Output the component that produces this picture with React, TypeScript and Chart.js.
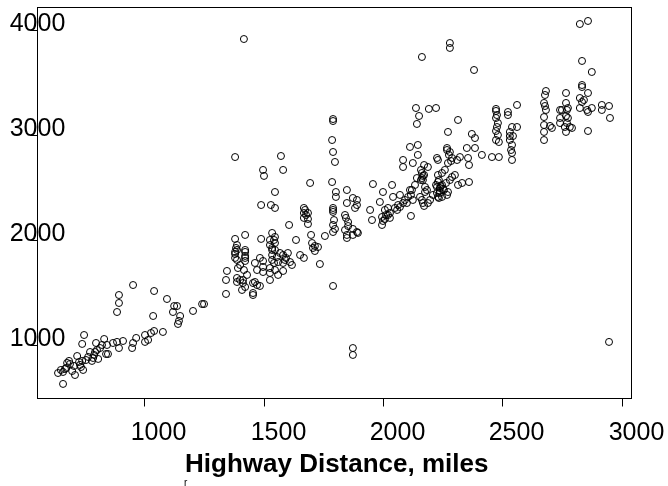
import React, { useEffect, useRef } from "react";
import { Chart, registerables } from "chart.js";

Chart.register(...registerables);

const xTickValues = [1000, 1500, 2000, 2500, 3000];
const yTickValues = [1000, 2000, 3000, 4000];
const xTitle = "Highway Distance, miles";
const footNote = "r";

const highwayMiles = [
  640, 661, 669, 661, 678, 686, 690, 711, 707, 720, 732, 736, 741, 745, 741, 749, 766, 782, 787, 795, 799, 803, 808, 791, 833, 841, 845, 849, 870, 887, 895, 912, 887, 895, 895, 950, 954, 967, 1004, 1004, 1017, 1029, 1042, 1079, 1038, 1042, 954, 1096, 1126, 1138, 1121, 1142, 1151, 1146, 1205, 1243, 1251, 1343, 1343, 1347, 674, 757, 816, 699,
  1381, 1389, 1381, 1381, 1393, 1423, 1423, 1423, 1402, 1414, 1431, 1410, 1423, 1389, 1423, 1381, 1423, 1389, 1423, 1490, 1464, 1485, 1498, 1536, 1527, 1548, 1527, 1548, 1536, 1548, 1569, 1536, 1556, 1582, 1602, 1536, 1561, 1590, 1611, 1619, 1582, 1498, 1527, 1548, 1498, 1473, 1527, 1561, 1582, 1527, 1389, 1389, 1414, 1464, 1473, 1485, 1456, 1456, 1456, 1402,
  1490, 1531, 1548, 1548, 1669, 1669, 1686, 1669, 1686, 1686, 1607, 1699, 1757, 1636, 1703, 1715, 1728, 1707, 1715, 1653, 1669, 1736, 1695, 1787,
  1803, 1803, 1849, 1849, 1874, 1891, 1891, 1883, 1791, 1791, 1841, 1854, 1841, 1849, 1849, 1874, 1891, 1874, 1895, 1791, 1799, 1791, 1958, 2038, 2000, 1987, 2008, 1996, 2008, 1996, 2029, 2042, 1946, 1954,
  1791, 1874, 1874, 2946, 1418,
  2138, 2192, 2222, 2151, 2142, 2314, 2272, 2372, 2385, 2113, 2146, 2146, 2084, 2125, 2084, 2268, 2280, 2289, 2272, 2230, 2226, 2322, 2310, 2351, 2385, 2356, 2360, 2188, 2163, 2142, 2121, 2105, 2084, 2071, 2059, 2167, 2176, 2176, 2167, 2188, 2155, 2230, 2238, 2226, 2247, 2259, 2230, 2272, 2280, 2301, 2289, 2314, 2331, 2360, 2117, 2268, 2230, 2238, 2172, 2163, 2247, 2255, 2264, 2092, 2100, 2063, 2050, 2021, 2029, 2071, 2113, 2134, 2197, 2209, 2184, 2381, 2163, 2280, 2280,
  2473, 2473, 2523, 2561, 2477, 2481, 2473, 2485, 2456, 2485, 2414, 2540, 2561, 2531, 2531, 2540, 2540, 2540, 2523, 2473, 2531, 2682, 2674, 2674, 2674, 2674, 2699, 2707, 2741, 2770, 2741, 2774, 2782, 2766, 2766, 2766, 2774, 2749, 2741, 2761, 2791, 2678, 2824, 2858, 2833, 2874, 2833, 2833, 2858, 2824, 2833, 2824, 2854, 2858, 2874, 2916, 2946, 2916, 2950, 2858, 2841,
  1381, 1573, 1498, 1502, 1582, 1791, 1791, 1787, 1791, 1799,
  2159, 2167, 2159, 2172, 2234, 2242, 2251, 2238, 2222, 2226, 2234, 2247, 2172, 2163, 2117, 2125, 2013, 2000, 2021,
  2477, 2481, 2473, 2536, 2544, 2678, 2682, 2674, 2766, 2770, 1674, 1678, 1791, 1795, 1845, 1854,
  1536, 1544, 1385, 1418, 1544, 1594, 652, 728, 774, 824, 2276, 2285, 2268,
];

const otherMiles = [
  733, 743, 771, 629, 829, 848, 819, 714, 800, 895, 810, 790, 848, 762, 1010, 1095, 886, 848, 876, 933, 1019, 952, 867, 905, 1057, 914, 1000, 914, 1019, 1029, 971, 1038, 1314, 1400, 1476, 971, 1019, 1067, 1095, 1029, 1048, 1114, 1133, 1124, 1276, 1514, 1571, 1438, 1371, 1371, 1314, 1200, 1276, 1229, 1324, 1390, 1390, 1486, 1619, 1705, 781, 857, 971, 752,
  2010, 1952, 1886, 1829, 1733, 2048, 1905, 1829, 1619, 1619, 1667, 1524, 1552, 1905, 1886, 1867, 1848, 1810, 1800, 2010, 1781, 1829, 1800, 2067, 2000, 2029, 1952, 1971, 1924, 1905, 1876, 1857, 1838, 1857, 1876, 1810, 1790, 1810, 1790, 1762, 1781, 1743, 1733, 1714, 1695, 1714, 1686, 1667, 1705, 1619, 1638, 1600, 1590, 1600, 1571, 1562, 1590, 1495, 1476, 1762,
  2333, 2333, 2305, 2457, 2305, 2257, 2257, 2210, 2200, 2152, 2143, 2048, 2038, 2000, 1971, 1943, 1933, 1924, 1895, 1857, 1829, 1771, 2543, 2552,
  2457, 2410, 2476, 2352, 2400, 2381, 2333, 2305, 2305, 2286, 2238, 2171, 2095, 2048, 2019, 2105, 2076, 2048, 2067, 2143, 2105, 2076, 2533, 2524, 2457, 2362, 2286, 2219, 2200, 2143, 2257, 2410, 2286, 2190,
  1562, 971, 905, 1029, 3914,
  3257, 3248, 3257, 3181, 3105, 3143, 3029, 3010, 2971, 2886, 2905, 2810, 2762, 2733, 2695, 2876, 2838, 2781, 2733, 2762, 2781, 2790, 2762, 2876, 2876, 2781, 2714, 2695, 2638, 2590, 2476, 2410, 2352, 2314, 2286, 2571, 2505, 2457, 2352, 2352, 2410, 2552, 2448, 2505, 2638, 2667, 2619, 2457, 2571, 2619, 2600, 2524, 2543, 2552, 2229, 2429, 2410, 2495, 2619, 2590, 2524, 2476, 2543, 2381, 2352, 2333, 2305, 2238, 2210, 2429, 2476, 2524, 2381, 2429, 2476, 3619, 3743, 3876, 3829,
  3248, 3162, 3219, 3286, 3076, 3000, 2952, 2933, 2790, 2790, 2810, 3076, 3076, 3029, 2952, 2905, 2829, 2762, 3190, 3229, 2990, 3419, 3305, 3171, 3095, 2952, 3086, 3067, 3238, 3238, 3162, 3162, 3076, 3029, 3400, 3305, 3257, 3238, 3114, 3076, 3067, 3276, 4057, 4086, 3705, 3600, 3476, 3457, 3400, 3352, 3314, 3257, 3238, 3219, 3257, 3286, 3276, 3238, 3162, 3038, 3333,
  2790, 2800, 2667, 2610, 2667, 3152, 3133, 2952, 2838, 2743,
  2667, 2610, 2571, 2714, 2571, 2514, 2486, 2467, 2524, 2448, 2400, 2410, 2324, 2381, 2429, 2381, 2238, 2181, 2305,
  3190, 3114, 3038, 2857, 2990, 3381, 3238, 3029, 3181, 3114, 2286, 2238, 2267, 2190, 2210, 2133,
  1905, 2000, 1924, 1714, 1781, 1829, 762, 838, 933, 1000, 2810, 2752, 2857,
];

const FONT = '"Liberation Sans", Arial, Helvetica, sans-serif';

const axesPlugin = {
  id: "rAxes",
  afterDraw(chart: any) {
    const { ctx, chartArea, scales } = chart;
    const xs = scales.x;
    const ys = scales.y;
    ctx.save();
    ctx.strokeStyle = "#000";
    ctx.lineWidth = 1;
    ctx.strokeRect(
      Math.round(chartArea.left) + 0.5,
      Math.round(chartArea.top) + 0.5,
      Math.round(chartArea.right - chartArea.left),
      Math.round(chartArea.bottom - chartArea.top)
    );
    ctx.fillStyle = "#000";
    ctx.font = `25px ${FONT}`;
    ctx.textAlign = "center";
    ctx.textBaseline = "alphabetic";
    const bottom = Math.round(chartArea.bottom) + 0.5;
    xTickValues.forEach((v) => {
      const px = Math.round(xs.getPixelForValue(v)) + 0.5;
      ctx.beginPath();
      ctx.moveTo(px, bottom);
      ctx.lineTo(px, bottom + 8);
      ctx.stroke();
      ctx.fillText(String(v), px + 14, 440);
    });
    const left = Math.round(chartArea.left) + 0.5;
    yTickValues.forEach((v) => {
      const py = Math.round(ys.getPixelForValue(v)) + 0.5;
      ctx.beginPath();
      ctx.moveTo(left - 7, py);
      ctx.lineTo(left, py);
      ctx.stroke();
      ctx.fillText(String(v), left, py);
    });
    ctx.font = `bold 26px ${FONT}`;
    ctx.textAlign = "left";
    ctx.fillText(xTitle, 185, 472);
    ctx.font = `10px ${FONT}`;
    ctx.fillText(footNote, 184, 486);
    ctx.restore();
  },
};

export default function App() {
  const ref = useRef<HTMLCanvasElement | null>(null);
  useEffect(() => {
    if (!ref.current) return;
    const data = highwayMiles.map((x, i) => ({ x, y: otherMiles[i] }));
    const chart = new Chart(ref.current, {
      type: "scatter",
      data: {
        datasets: [
          {
            data,
            pointStyle: "circle",
            pointRadius: 3.5,
            pointHoverRadius: 3.5,
            borderColor: "#000",
            borderWidth: 1,
            backgroundColor: "rgba(0,0,0,0)",
          },
        ],
      },
      options: {
        animation: false,
        responsive: false,
        maintainAspectRatio: false,
        devicePixelRatio: 1,
        layout: { padding: { left: 37, right: 37, top: 7, bottom: 88 } },
        plugins: { legend: { display: false }, tooltip: { enabled: false } },
        scales: {
          x: { type: "linear", min: 552, max: 3038, display: false },
          y: { type: "linear", min: 495, max: 4219, display: false },
        },
      },
      plugins: [axesPlugin],
    });
    return () => chart.destroy();
  }, []);
  return (
    <div style={{ position: "absolute", left: 0, top: 0, width: 668, height: 486, background: "#fff" }}>
      <canvas ref={ref} width={668} height={486} style={{ width: 668, height: 486 }} />
    </div>
  );
}
